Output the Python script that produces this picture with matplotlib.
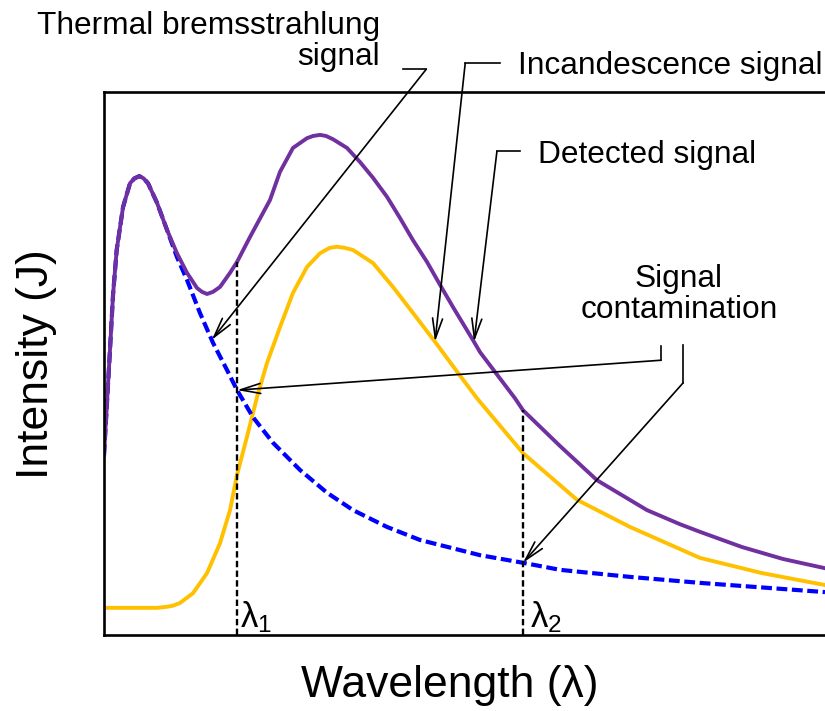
import numpy as np
import matplotlib
matplotlib.use("Agg")
import matplotlib.pyplot as plt

plt.rcParams["font.family"] = ["Liberation Sans", "DejaVu Sans"]
plt.rcParams["mathtext.fontset"] = "custom"
plt.rcParams["mathtext.rm"] = "Liberation Sans"

# ---- spectra (arbitrary units: wavelength 0-100, intensity 0-100) ----
wl_detected = [0.0, 0.83, 1.25, 1.76, 2.64, 3.61, 4.23, 4.90, 5.48, 6.10, 7.35,
               8.74, 10.12, 11.51, 12.90, 13.59, 14.29, 15.12, 16.09, 17.48, 18.45,
               20.25, 23.02, 24.41, 26.21, 28.16, 29.0, 29.96, 30.8, 31.76, 33.70,
               35.51, 37.31, 39.25, 41.05, 42.86, 44.80, 46.60, 48.40, 51.18, 52.15,
               57.00, 58.11, 63.25, 68.38, 75.31, 79.89, 82.66, 88.49, 94.17, 100.0]
detected = [33.1, 52.5, 62.6, 70.9, 78.8, 83.2, 84.1, 84.5, 84.1, 83.2, 79.6,
            74.6, 70.3, 66.7, 63.9, 63.2, 62.8, 63.2, 64.1, 66.7, 68.7,
            73.3, 80.1, 85.3, 89.7, 91.5, 91.9, 92.1, 91.9, 91.3, 89.7,
            87.1, 84.2, 80.7, 76.8, 72.7, 68.7, 64.5, 60.4, 54.3, 52.1,
            43.6, 41.4, 34.8, 28.5, 23.0, 20.4, 19.0, 16.2, 14.0, 12.3]

wl_incand = [0.0, 7.35, 8.74, 9.57, 10.54, 12.34, 14.29, 16.09, 17.48, 18.45,
             19.83, 21.22, 22.61, 24.41, 26.21, 28.16, 29.96, 31.3, 32.32, 33.4,
             34.54, 37.31, 40.08, 42.86, 45.91, 48.8, 51.73, 58.11, 65.60, 72.95,
             82.66, 91.26, 100.0]
incandescence = [5.0, 5.0, 5.2, 5.4, 5.9, 7.7, 11.4, 16.9, 23.0, 29.5,
                 36.5, 43.8, 50.1, 56.7, 63.0, 67.8, 70.3, 71.3, 71.5, 71.3,
                 70.9, 68.5, 64.1, 59.3, 54.0, 48.8, 43.6, 33.5, 24.9, 19.9,
                 14.2, 11.4, 9.2]

wl_brems = [0.0, 0.83, 1.25, 1.76, 2.64, 3.61, 4.23, 4.90, 5.48, 6.10, 7.35,
            8.74, 10.12, 11.51, 13.31, 15.12, 17.06, 18.45, 20.67, 23.44, 27.18,
            30.93, 34.54, 39.25, 43.83, 52.15, 58.11, 63.25, 72.95, 82.66, 100.0]
bremsstrahlung = [33.1, 52.5, 62.6, 70.9, 78.8, 83.2, 84.1, 84.5, 84.1, 83.2, 79.6,
                  74.6, 69.6, 65.4, 59.3, 53.8, 48.8, 45.1, 40.1, 35.4, 30.4,
                  26.2, 23.0, 19.9, 17.5, 14.7, 13.3, 12.0, 10.7, 9.6, 7.9]

lambda_1 = 18.45
lambda_2 = 58.11

PURPLE = "#7030A0"
GOLD = "#FFC000"
BLUE = "#0000FF"

fig = plt.figure(figsize=(8.25, 7.11), dpi=100)
ax = fig.add_axes([104 / 825, 76 / 711, 1 - 104 / 825, 543 / 711])
ax.set_xlim(0, 100)
ax.set_ylim(0, 100)
ax.set_xticks([])
ax.set_yticks([])
for side in ("left", "bottom", "top"):
    ax.spines[side].set_linewidth(1.9)
ax.spines["right"].set_visible(False)

ax.plot(wl_incand, incandescence, color=GOLD, lw=2.8, solid_joinstyle="round")
ax.plot(wl_brems, bremsstrahlung, color=BLUE, lw=3.0, dashes=(2.6, 1.1))
ax.plot(wl_detected, detected, color=PURPLE, lw=2.8, solid_joinstyle="round")

# dashed markers for the two detection wavelengths
for lam in (lambda_1, lambda_2):
    top = np.interp(lam, wl_detected, detected)
    ax.plot([lam, lam], [0, top], color="black", lw=1.7, dashes=(2.7, 1.4))

ax.text(lambda_1 + 0.4, 1.5, r"$\mathregular{λ_1}$", fontsize=25,
        ha="left", va="baseline")
ax.text(lambda_2 + 1.0, 1.5, r"$\mathregular{λ_2}$", fontsize=25,
        ha="left", va="baseline")

# ---- callouts ----
TXT = 22.8
LW = 1.2
arrow = dict(arrowstyle="->,head_length=0.72,head_width=0.18", lw=LW,
             color="black", shrinkA=0, shrinkB=0, mutation_scale=20)


def leader(points, tip):
    xs, ys = zip(*points)
    ax.plot(xs, ys, color="black", lw=LW, clip_on=False,
            solid_joinstyle="miter")
    ax.annotate("", xy=tip, xytext=points[-1], arrowprops=arrow,
                annotation_clip=False)


# thermal bremsstrahlung
ax.text(38.3, 104.9, "Thermal bremsstrahlung\nsignal", fontsize=TXT,
        ha="right", va="baseline", linespacing=1.05)
tip = (14.94, np.interp(14.94, wl_brems, bremsstrahlung))
leader([(41.5, 104.2), (44.7, 104.2)], tip)

# incandescence
ax.text(57.4, 103.4, "Incandescence signal", fontsize=TXT,
        ha="left", va="baseline")
tip = (45.91, np.interp(45.91, wl_incand, incandescence))
leader([(54.9, 105.3), (50.1, 105.3)], tip)

# detected
ax.text(60.2, 86.9, "Detected signal", fontsize=TXT, ha="left", va="baseline")
tip = (51.32, np.interp(51.32, wl_detected, detected))
leader([(57.7, 89.1), (54.5, 89.1)], tip)

# contamination
ax.text(79.75, 68.3, "Signal\ncontamination", fontsize=TXT, ha="center",
        va="top", linespacing=1.05)
tip = (lambda_1, np.interp(lambda_1, wl_brems, bremsstrahlung))
leader([(77.25, 53.2), (77.25, 50.6)], tip)
tip = (lambda_2, np.interp(lambda_2, wl_brems, bremsstrahlung))
leader([(80.3, 53.4), (80.3, 46.4)], tip)

fig.text(449.5 / 825, 1 - 685 / 711, "Wavelength (λ)", fontsize=32,
         ha="center", va="center")
fig.text(37 / 825, 1 - 364 / 711, "Intensity (J)", fontsize=32,
         ha="center", va="center", rotation=90)

fig.savefig("out.png", dpi=100)
